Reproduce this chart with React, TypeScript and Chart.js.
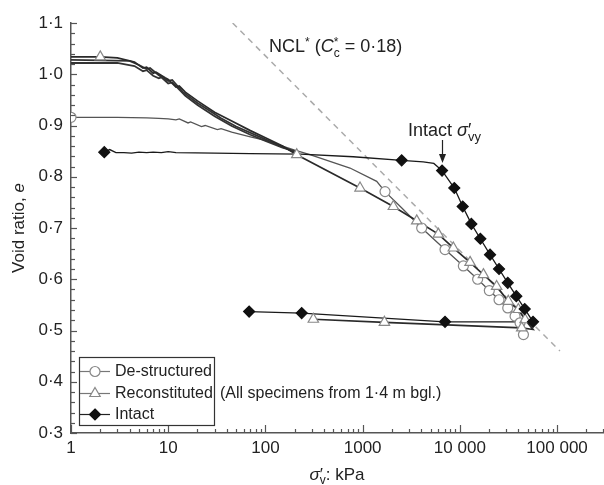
import React, { useEffect, useRef } from "react";
import { Chart, registerables } from "chart.js";

Chart.register(...registerables);

const FONT = '"Liberation Sans", Arial, Helvetica, sans-serif';
const TXT = "#222";
const AXIS = "#555";

// ---- tick values ----
const xTickValues = [1, 10, 100, 1000, 10000, 100000];
const yTickValues = [0.3, 0.4, 0.5, 0.6, 0.7, 0.8, 0.9, 1.0, 1.1];

// ---- Intact (line trace) ----
const intactLineStress = [2.2, 2.5, 2.9, 3.5, 4.2, 5, 6, 7, 8.5, 10, 11, 12, 30, 70, 230, 800, 2520, 4200, 5400, 6560, 8770, 10700, 13130, 16250, 20450, 25300, 31100, 38100, 46500, 56600, 7040, 236, 68];
const intactLineVoid = [0.848, 0.853, 0.847, 0.847, 0.846, 0.848, 0.847, 0.848, 0.847, 0.849, 0.848, 0.847, 0.846, 0.845, 0.844, 0.839, 0.832, 0.829, 0.826, 0.812, 0.778, 0.742, 0.708, 0.679, 0.648, 0.620, 0.593, 0.567, 0.542, 0.517, 0.517, 0.534, 0.537];
// ---- Intact (marked points) ----
const intactPtStress = [2.2, 2520, 6560, 8770, 10700, 13130, 16250, 20450, 25300, 31100, 38100, 46500, 56600, 7040, 236, 68];
const intactPtVoid = [0.848, 0.832, 0.812, 0.778, 0.742, 0.708, 0.679, 0.648, 0.620, 0.593, 0.567, 0.542, 0.517, 0.517, 0.534, 0.537];

// ---- Reconstituted (line trace) ----
const reconLineStress = [1, 2, 3, 4.5, 5.5, 6, 7, 7.5, 9.3, 10, 12, 13, 15, 20, 30, 45, 70, 100, 150, 210, 940, 2070, 3600, 6010, 8570, 12740, 17470, 23900, 31500, 40000, 46900, 56600, 43300, 1675, 311];
const reconLineVoid = [1.034, 1.034, 1.032, 1.024, 1.012, 1.014, 1.002, 1.004, 0.993, 0.990, 0.975, 0.977, 0.965, 0.948, 0.926, 0.909, 0.890, 0.876, 0.860, 0.843, 0.778, 0.742, 0.714, 0.688, 0.661, 0.633, 0.609, 0.586, 0.557, 0.541, 0.521, 0.502, 0.505, 0.516, 0.522];
// other reconstituted traces forming the band
const reconBandAStress = [1, 3, 4.5, 5.5, 6, 7, 8, 8.5, 10, 11, 15, 20, 30, 45, 70, 100, 150, 200];
const reconBandAVoid = [1.022, 1.022, 1.016, 1.006, 1.008, 0.997, 0.992, 0.994, 0.982, 0.984, 0.958, 0.940, 0.918, 0.899, 0.882, 0.870, 0.857, 0.850];
const reconBandBStress = [1, 4, 5, 6, 6.5, 8, 10, 11, 14, 20, 25, 35, 50, 100, 200];
const reconBandBVoid = [1.028, 1.026, 1.018, 1.010, 1.012, 0.998, 0.987, 0.989, 0.966, 0.944, 0.932, 0.914, 0.898, 0.873, 0.848];
// ---- Reconstituted (marked points) ----
const reconPtStress = [2, 210, 940, 2070, 3600, 6010, 8570, 12740, 17470, 23900, 31500, 40000, 46900, 43300, 1675, 311];
const reconPtVoid = [1.034, 0.843, 0.778, 0.742, 0.714, 0.688, 0.661, 0.633, 0.609, 0.586, 0.557, 0.541, 0.521, 0.505, 0.516, 0.522];

// ---- De-structured (line trace) ----
const destrLineStress = [1, 3, 6, 8, 10, 12, 13, 16, 17, 22, 24, 32, 35, 45, 70, 100, 150, 200, 287, 741, 1395, 1700, 2500, 4050, 7040, 10870, 15240, 20100, 25300, 31100, 37000, 41600, 45100];
const destrLineVoid = [0.916, 0.916, 0.915, 0.914, 0.913, 0.911, 0.913, 0.905, 0.907, 0.898, 0.900, 0.892, 0.894, 0.887, 0.878, 0.871, 0.860, 0.852, 0.843, 0.817, 0.791, 0.771, 0.740, 0.700, 0.658, 0.626, 0.600, 0.578, 0.560, 0.544, 0.528, 0.515, 0.492];
// ---- De-structured (marked points) ----
const destrPtStress = [1, 1700, 4050, 7040, 10870, 15240, 20100, 25300, 31100, 37000, 41600, 45100];
const destrPtVoid = [0.916, 0.771, 0.700, 0.658, 0.626, 0.600, 0.578, 0.560, 0.544, 0.528, 0.515, 0.492];

// ---- NCL* line ----
const nclStress = [46, 107000];
const nclVoid = [1.1, 0.46];

const zip = (xs: number[], ys: number[]) => xs.map((x, i) => ({ x, y: ys[i] }));

type Run = { t: string; f: string; dy?: number; stack?: boolean };
function runs(ctx: CanvasRenderingContext2D, x: number, y: number, rs: Run[], draw: boolean) {
  let cx = x;
  let prevX = x;
  for (const r of rs) {
    ctx.font = r.f;
    const w = ctx.measureText(r.t).width;
    if (r.stack) {
      if (draw) ctx.fillText(r.t, prevX, y + (r.dy || 0));
      cx = Math.max(cx, prevX + w);
    } else {
      if (draw) ctx.fillText(r.t, cx, y + (r.dy || 0));
      prevX = cx;
      cx += w;
    }
  }
  return cx - x;
}

function marker(ctx: CanvasRenderingContext2D, kind: string, x: number, y: number) {
  ctx.beginPath();
  if (kind === "circle") {
    ctx.arc(x, y, 5, 0, Math.PI * 2);
    ctx.fillStyle = "#fff";
    ctx.strokeStyle = "#888";
  } else if (kind === "triangle") {
    const r = 6;
    ctx.moveTo(x, y - r);
    ctx.lineTo(x + r * 0.866, y + r / 2);
    ctx.lineTo(x - r * 0.866, y + r / 2);
    ctx.closePath();
    ctx.fillStyle = "#fff";
    ctx.strokeStyle = "#888";
  } else {
    const r = 5.5;
    ctx.moveTo(x, y - r);
    ctx.lineTo(x + r, y);
    ctx.lineTo(x, y + r);
    ctx.lineTo(x - r, y);
    ctx.closePath();
    ctx.fillStyle = "#111";
    ctx.strokeStyle = "#111";
  }
  ctx.lineWidth = 1.2;
  ctx.fill();
  ctx.stroke();
}

const overlay = {
  id: "overlay",
  afterDraw(chart: any) {
    const ctx: CanvasRenderingContext2D = chart.ctx;
    const xs = chart.scales.x;
    const ys = chart.scales.y;
    const { left, bottom } = chart.chartArea;
    ctx.save();
    // inward ticks
    ctx.strokeStyle = AXIS;
    ctx.lineWidth = 1.2;
    for (let i = 0; i <= 40; i++) {
      const v = 0.3 + i * 0.02;
      const y = Math.round(ys.getPixelForValue(v)) + 0.5;
      const len = i % 5 === 0 ? 6 : 4;
      ctx.beginPath();
      ctx.moveTo(left, y);
      ctx.lineTo(left + len, y);
      ctx.stroke();
    }
    for (let d = 0; d <= 5; d++) {
      for (let k = 1; k <= 9; k++) {
        const v = k * Math.pow(10, d);
        if (v > xs.max) break;
        const x = Math.round(xs.getPixelForValue(v)) + 0.5;
        const len = k === 1 ? 8 : 4;
        ctx.beginPath();
        ctx.moveTo(x, bottom);
        ctx.lineTo(x, bottom - len);
        ctx.stroke();
      }
    }

    ctx.fillStyle = TXT;
    ctx.textBaseline = "alphabetic";
    ctx.textAlign = "left";

    // y title
    ctx.save();
    ctx.translate(24, 228);
    ctx.rotate(-Math.PI / 2);
    const yRuns: Run[] = [
      { t: "Void ratio, ", f: `17px ${FONT}` },
      { t: "e", f: `italic 17px ${FONT}` },
    ];
    const yw = runs(ctx, 0, 0, yRuns, false);
    runs(ctx, -yw / 2, 0, yRuns, true);
    ctx.restore();

    // x title
    const xRuns: Run[] = [
      { t: "σ", f: `italic 17px ${FONT}` },
      { t: "′", f: `17px ${FONT}` },
      { t: "v", f: `12px ${FONT}`, dy: 4, stack: true },
      { t: ": kPa", f: `17px ${FONT}` },
    ];
    const xw = runs(ctx, 0, 0, xRuns, false);
    runs(ctx, 337 - xw / 2, 480, xRuns, true);

    // NCL annotation
    runs(ctx, 269, 52, [
      { t: "NCL", f: `18px ${FONT}` },
      { t: "*", f: `12px ${FONT}`, dy: -6 },
      { t: " (", f: `18px ${FONT}` },
      { t: "C", f: `italic 18px ${FONT}` },
      { t: "*", f: `12px ${FONT}`, dy: -6 },
      { t: "c", f: `12px ${FONT}`, dy: 5, stack: true },
      { t: " = 0·18)", f: `18px ${FONT}` },
    ], true);

    // Intact yield annotation
    runs(ctx, 408, 136, [
      { t: "Intact ", f: `18px ${FONT}` },
      { t: "σ", f: `italic 18px ${FONT}` },
      { t: "′", f: `18px ${FONT}` },
      { t: "vy", f: `13px ${FONT}`, dy: 5, stack: true },
    ], true);

    // arrow
    const ax = Math.round(xs.getPixelForValue(intactPtStress[2])) + 0.5;
    ctx.strokeStyle = "#222";
    ctx.lineWidth = 1.2;
    ctx.beginPath();
    ctx.moveTo(ax, 140);
    ctx.lineTo(ax, 156);
    ctx.stroke();
    ctx.beginPath();
    ctx.moveTo(ax - 3.5, 154);
    ctx.lineTo(ax + 3.5, 154);
    ctx.lineTo(ax, 163);
    ctx.closePath();
    ctx.fillStyle = "#222";
    ctx.fill();

    // legend
    ctx.fillStyle = "#fff";
    ctx.fillRect(79, 357, 135, 68);
    ctx.strokeStyle = "#333";
    ctx.lineWidth = 1.2;
    ctx.strokeRect(79.5, 357.5, 135, 68);
    const items = [
      { label: "De-structured", kind: "circle", y: 371 },
      { label: "Reconstituted", kind: "triangle", y: 393 },
      { label: "Intact", kind: "diamond", y: 414 },
    ];
    for (const it of items) {
      ctx.strokeStyle = it.kind === "diamond" ? "#222" : "#777";
      ctx.lineWidth = 1.2;
      ctx.beginPath();
      ctx.moveTo(80, it.y + 0.5);
      ctx.lineTo(110, it.y + 0.5);
      ctx.stroke();
      marker(ctx, it.kind, 95, it.y + 0.5);
      ctx.fillStyle = TXT;
      ctx.font = `16px ${FONT}`;
      ctx.textBaseline = "middle";
      ctx.fillText(it.label, 115, it.y + 1);
    }
    ctx.fillText("(All specimens from 1·4 m bgl.)", 220, 394);
    ctx.restore();
  },
};

const fmtX = (v: number) => {
  const s = String(v);
  return v >= 10000 ? s.slice(0, s.length - 3) + " " + s.slice(-3) : s;
};

export default function App() {
  const ref = useRef<HTMLCanvasElement>(null);
  useEffect(() => {
    if (!ref.current) return;
    const lineDs = (label: string, xs: number[], ys: number[], color: string, w: number) => ({
      label,
      data: zip(xs, ys),
      borderColor: color,
      borderWidth: w,
      pointRadius: 0,
      pointHoverRadius: 0,
      showLine: true,
      tension: 0,
      fill: false,
    });
    const ptDs = (label: string, xs: number[], ys: number[], style: string, r: number, bg: string, bc: string) => ({
      label,
      data: zip(xs, ys),
      showLine: false,
      pointStyle: style,
      pointRadius: r,
      pointHoverRadius: r,
      pointBackgroundColor: bg,
      pointBorderColor: bc,
      pointBorderWidth: 1.2,
    });
    const chart = new Chart(ref.current, {
      type: "scatter",
      data: {
        datasets: [
          ptDs("Intact", intactPtStress, intactPtVoid, "rectRot", 5.5, "#111", "#111"),
          ptDs("Reconstituted", reconPtStress, reconPtVoid, "triangle", 6, "#fff", "#888"),
          ptDs("De-structured", destrPtStress, destrPtVoid, "circle", 5, "#fff", "#888"),
          lineDs("Intact line", intactLineStress, intactLineVoid, "#1a1a1a", 1.3),
          lineDs("Reconstituted line", reconLineStress, reconLineVoid, "#2a2a2a", 1.7),
          lineDs("Reconstituted band A", reconBandAStress, reconBandAVoid, "#333", 1.8),
          lineDs("Reconstituted band B", reconBandBStress, reconBandBVoid, "#333", 1.8),
          lineDs("De-structured line", destrLineStress, destrLineVoid, "#555", 1.3),
          { ...lineDs("NCL*", nclStress, nclVoid, "#aaa", 1.5), borderDash: [6, 5] },
        ] as any,
      },
      options: {
        animation: false,
        responsive: false,
        events: [],
        layout: { autoPadding: false, padding: { top: 23, right: 0, left: 0, bottom: 0 } },
        plugins: { legend: { display: false }, tooltip: { enabled: false } },
        scales: {
          x: {
            type: "logarithmic",
            min: 1,
            max: 304000,
            grid: { display: false, drawTicks: false },
            border: { display: true, color: AXIS, width: 1.5 },
            afterBuildTicks: (s: any) => {
              s.ticks = xTickValues.map((value) => ({ value }));
            },
            afterFit: (s: any) => {
              s.height = 52;
            },
            ticks: {
              autoSkip: false,
              maxRotation: 0,
              padding: 5,
              color: TXT,
              font: { family: FONT, size: 17 },
              callback: (v: any) => fmtX(Number(v)),
            },
          },
          y: {
            type: "linear",
            min: 0.3,
            max: 1.1,
            grid: { display: false, drawTicks: false },
            border: { display: true, color: AXIS, width: 1.5 },
            afterBuildTicks: (s: any) => {
              s.ticks = yTickValues.map((value) => ({ value }));
            },
            afterFit: (s: any) => {
              s.width = 71;
            },
            ticks: {
              padding: 8,
              color: TXT,
              font: { family: FONT, size: 17 },
              callback: (v: any) => Number(v).toFixed(1).replace(".", "·"),
            },
          },
        },
      } as any,
      plugins: [overlay],
    });
    return () => chart.destroy();
  }, []);
  return (
    <div style={{ position: "absolute", left: 0, top: 0, width: 604, height: 485, background: "#fff" }}>
      <canvas ref={ref} width={604} height={485} style={{ display: "block" }} />
    </div>
  );
}
